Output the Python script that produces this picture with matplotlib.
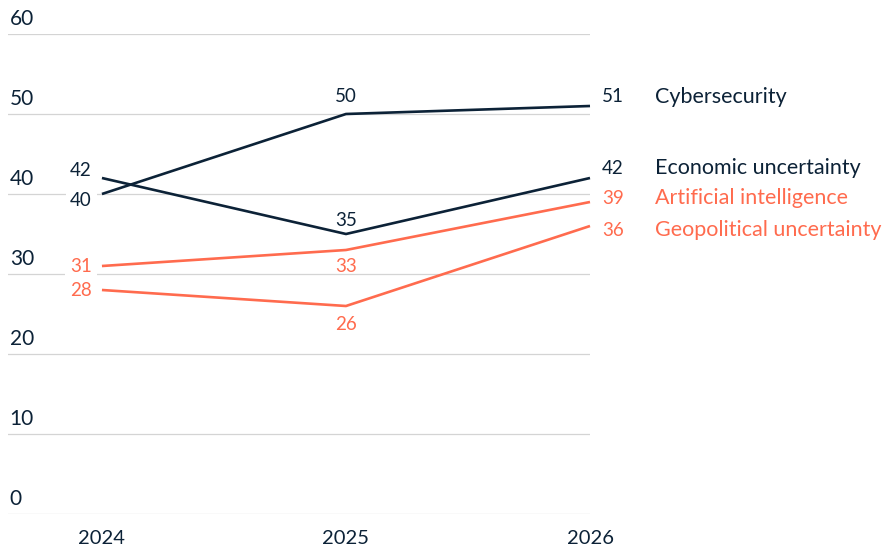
import matplotlib
matplotlib.use("Agg")
import matplotlib.pyplot as plt

plt.rcParams['font.family'] = ['Lato', 'DejaVu Sans']

years = [2024, 2025, 2026]
series_names = ["Cybersecurity", "Economic uncertainty", "Artificial intelligence", "Geopolitical uncertainty"]
cyber = [40, 50, 51]
econ = [42, 35, 42]
ai = [31, 33, 39]
geo = [28, 26, 36]
yticks = [0, 10, 20, 30, 40, 50, 60]

NAVY = "#0c2237"
ORANGE = "#ff6b4e"
GRID = "#d4d4d4"

series = [cyber, econ, ai, geo]
colors = [NAVY, NAVY, ORANGE, ORANGE]
# label vertical offsets in pixels for each series at each year (layout only)
dys = [[-7, 17, 9], [8, 14, 10], [0, -17, 4], [-1, -19, -4]]

fig = plt.figure(figsize=(8.95, 5.46), dpi=100)
W, H = 895, 546
ax = fig.add_axes([8 / W, (H - 514) / H, 582 / W, 480 / H])
ax.set_xlim(2023.615, 2026)
ax.set_ylim(0, 60)
for s in ax.spines.values():
    s.set_visible(False)
ax.set_xticks([])
ax.set_yticks([])

for t in yticks:
    ax.axhline(t, color=GRID, lw=0.9, zorder=0)
    ax.annotate(str(t), xy=(0.003, t), xycoords=('axes fraction', 'data'),
                xytext=(0, 15), textcoords='offset pixels',
                ha='left', va='center', fontsize=15, color=NAVY)

for yr in years:
    ax.annotate(str(yr), xy=(yr, 0), xycoords='data', xytext=(0, -24),
                textcoords='offset pixels', ha='center', va='center',
                fontsize=14.5, color=NAVY, annotation_clip=False)

for vals, col, dy, name in zip(series, colors, dys, series_names):
    ax.plot(years, vals, color=col, lw=1.9, zorder=3, clip_on=False,
            solid_capstyle='butt')
    # 2024
    ax.annotate(str(vals[0]), xy=(years[0], vals[0]), xytext=(-10, dy[0]),
                textcoords='offset pixels', ha='right', va='center',
                fontsize=13.5, color=col, zorder=4,
                bbox=dict(boxstyle='square,pad=0.25', fc='white', ec='none'))
    # 2025
    ax.annotate(str(vals[1]), xy=(years[1], vals[1]), xytext=(0, dy[1]),
                textcoords='offset pixels', ha='center', va='center',
                fontsize=13.5, color=col, zorder=4)
    # 2026
    ax.annotate(str(vals[2]), xy=(years[2], vals[2]), xytext=(12, dy[2]),
                textcoords='offset pixels', ha='left', va='center',
                fontsize=13.5, color=col, annotation_clip=False)
    ax.annotate(name, xy=(years[2], vals[2]), xytext=(65, dy[2]),
                textcoords='offset pixels', ha='left', va='center',
                fontsize=15.5, color=col, annotation_clip=False)

fig.savefig("out.png", dpi=100)
